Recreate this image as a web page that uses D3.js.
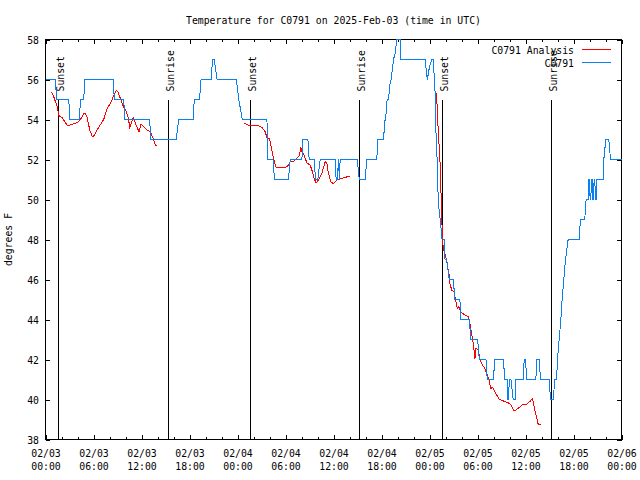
<!DOCTYPE html>
<html><head><meta charset="utf-8">
<script src="https://cdn.jsdelivr.net/npm/d3@7"></script>
<style>
body{margin:0;background:#fff;}
text{font-family:"DejaVu Sans Mono",monospace;font-size:9.8px;fill:#000;}
</style></head>
<body>
<script>
// ---- data ----
const titleText = "Temperature for C0791 on 2025-Feb-03 (time in UTC)";
const yLabel = "degrees F";
const startUTC = Date.UTC(2025, 1, 3);
const endUTC = Date.UTC(2025, 1, 6);
const yTicks = [38, 40, 42, 44, 46, 48, 50, 52, 54, 56, 58];
const seriesNames = ["C0791 Analysis", "C0791"];
const seriesColors = ["#ff0000", "#0a80f0"];
const eventHours = [1.66, 15.39, 25.63, 39.24, 49.65, 63.2];
const eventLabels = ["Sunset", "Sunrise", "Sunset", "Sunrise", "Sunset", "Sunrise"];

// observations: hours since 02/03 00:00 UTC, temperature F
const obsHours = [0.0,1.25,1.37,2.91,3.03,4.24,4.37,4.78,4.91,8.45,8.61,9.78,9.90,13.02,13.15,16.35,16.64,18.44,18.6,19.26,19.44,20.69,20.89,21.1,21.44,23.85,24.16,24.6,27.68,27.8,28.43,28.63,30.37,30.59,32.05,32.17,32.8,32.96,33.58,33.75,34.04,34.33,36.2,36.33,36.49,36.62,36.74,36.83,39.01,39.11,39.24,39.95,40.16,41.41,41.54,42.23,42.35,42.45,42.57,42.7,42.88,43.03,43.2,43.36,43.5,43.7,43.92,44.33,44.41,47.44,47.73,47.98,48.28,48.48,48.6,48.69,48.78,48.9,49.03,49.19,49.4,49.53,49.85,49.94,50.15,50.47,50.97,51.18,51.8,51.9,52.97,53.18,54.02,54.22,55.06,55.22,55.97,56.18,57.22,57.43,57.71,57.8,57.89,57.97,58.18,58.46,58.71,58.8,59.71,59.84,60.01,60.14,61.3,61.39,61.71,61.88,62.96,63.13,63.46,63.67,63.88,64.0,64.21,64.42,64.58,64.79,65.0,65.33,66.7,66.87,67.42,67.5,67.62,67.83,67.92,68.0,68.08,68.16,68.25,68.33,68.41,68.5,68.58,68.66,68.75,68.83,68.91,69.7,69.79,70.04,70.41,70.63,72.0];
const obsTemps = [56,56,55,55,54,54,55,55,56,56,55,55,54,54,53,53,54,54,55,55,56,56,57,57,56,56,55,54,54,52,52,51,51,52,52,53,53,52,52,51,51,52,52,51,51,52,51,52,52,51.3,51,51,52,52,53,53,53.5,54,54.3,55,55,55.7,56,56.5,57,57.3,58,58,57,57,56,56.6,57,57,56,55.4,53.5,52.8,50.6,49.5,48.8,48.05,48,47,47,46,46,45,45,44,44,43,43,42,42,41,41,42,42,41,41,40,40,41,41,40,40,41,41,42,42,41,41,42,42,41,41,40,40,41,41,42,43,44,45,46,47,48,48,49,49,49.8,50,50,51,51,50,50,51,51,50,50,51,51,50,50,51,51,52,53,53,52,52];

// analysis: null entries break the line
const anaHours = [0.75,1.04,1.46,1.66,2.08,2.71,3.33,3.96,4.37,4.78,4.99,5.21,5.53,5.83,6.03,6.45,6.87,7.28,7.7,8.11,8.53,8.86,9.03,9.36,9.78,10.11,10.4,10.52,10.7,10.95,11.11,11.45,11.7,11.95,12.27,12.7,13.11,13.45,13.73,13.98,
  null,
  24.76,25.38,26.84,27.05,27.47,27.68,28.0,28.3,28.5,28.8,29.34,29.96,30.37,30.59,31.0,31.42,31.75,31.92,32.08,32.33,32.67,33.08,33.3,33.58,33.83,34.12,34.54,34.96,35.17,35.37,35.67,35.99,36.42,37.04,37.67,37.99,
  null,
  48.81,48.98,49.1,49.23,49.4,49.48,49.65,49.73,49.85,50.15,50.27,50.47,50.56,50.77,51.06,51.31,51.47,51.65,51.9,52.43,52.85,53.06,53.27,53.47,53.68,53.81,54.09,54.31,54.64,54.93,55.22,55.47,55.64,55.89,56.18,56.72,57.22,57.84,58.18,58.59,58.89,59.3,59.64,60.14,60.55,60.84,60.96,61.17,61.38,61.59,61.89];
const anaTemps = [55.38,55.13,54.63,54.2,54.1,53.7,53.75,53.85,54.0,54.3,54.3,54.1,53.47,53.17,53.17,53.47,53.75,54.0,54.55,54.8,55.2,55.47,55.4,55.05,54.6,54.38,54.0,53.55,53.8,54.1,53.95,53.6,53.38,53.77,53.65,53.47,53.38,53.05,52.72,52.72,
  null,
  53.83,53.72,53.67,53.6,53.38,53.1,53.05,52.47,52.05,51.63,51.58,51.58,51.72,51.88,51.9,52.05,52.22,52.6,52.38,52.22,51.83,51.72,51.47,51.05,50.83,50.97,51.3,51.9,51.8,51.3,50.88,50.8,50.97,51.05,51.13,51.17,
  null,
  55.33,54.6,53.3,52.5,51.2,49.4,48.0,47.47,47.4,46.97,46.6,46.2,45.8,45.47,45.4,44.9,44.55,44.65,44.38,44.22,44.13,43.8,43.3,42.8,42.05,42.55,42.5,41.97,41.72,41.55,41.22,40.97,40.55,40.6,40.38,40.0,39.93,39.83,39.75,39.42,39.5,39.63,39.75,39.77,39.9,40.05,39.9,39.47,39.13,38.75,38.75];

// ---- chart ----
const W = 640, H = 480;
const L = 45.5, R = 621.5, T = 39.5, B = 439.5;
const toDate = h => new Date(startUTC + h * 3600e3);

const svg = d3.select("body").append("svg").attr("width", W).attr("height", H);
svg.append("rect").attr("width", W).attr("height", H).attr("fill", "#fff");

const x = d3.scaleUtc().domain([new Date(startUTC), new Date(endUTC)]).range([L, R]);
const y = d3.scaleLinear().domain([38, 58]).range([B, T]);

const majorT = d3.utcHours(new Date(startUTC), new Date(endUTC + 1), 6);
const minorT = d3.utcHours(new Date(startUTC), new Date(endUTC + 1), 2);

// minor ticks bottom / top
svg.append("g").attr("transform", `translate(0,${B})`)
  .call(d3.axisBottom(x).tickValues(minorT).tickSizeInner(-2.5).tickSizeOuter(0).tickFormat(""));
svg.append("g").attr("transform", `translate(0,${T})`)
  .call(d3.axisTop(x).tickValues(minorT).tickSizeInner(-2.5).tickSizeOuter(0).tickFormat(""));

// major bottom with 2-line labels
const fmtD = d3.utcFormat("%m/%d"), fmtH = d3.utcFormat("%H:%M");
const gx = svg.append("g").attr("transform", `translate(0,${B})`)
  .call(d3.axisBottom(x).tickValues(majorT).tickSizeInner(-4.5).tickSizeOuter(0).tickFormat(""));
gx.selectAll(".tick text").attr("y", null).attr("dy", null).each(function(d) {
  const t = d3.select(this);
  t.append("tspan").attr("x", 0).attr("y", 17.8).text(fmtD(d));
  t.append("tspan").attr("x", 0).attr("y", 30.5).text(fmtH(d));
});
svg.append("g").attr("transform", `translate(0,${T})`)
  .call(d3.axisTop(x).tickValues(majorT).tickSizeInner(-4.5).tickSizeOuter(0).tickFormat(""));

// y axes
svg.append("g").attr("transform", `translate(${L},0)`)
  .call(d3.axisLeft(y).tickValues(yTicks).tickSizeInner(-4.5).tickSizeOuter(0).tickPadding(6.5).tickFormat(d3.format("d")))
  .selectAll("text").attr("dy", "0.45em");
svg.append("g").attr("transform", `translate(${R},0)`)
  .call(d3.axisRight(y).tickValues(yTicks).tickSizeInner(-4.5).tickSizeOuter(0).tickFormat(""));

svg.selectAll(".domain").remove();
svg.selectAll(".tick line").attr("stroke", "#000").attr("shape-rendering", "crispEdges");
svg.selectAll(".tick text").attr("font-family", null).attr("font-size", null).attr("fill", "#000");

// border
svg.append("rect").attr("x", L).attr("y", T).attr("width", R - L).attr("height", B - T)
  .attr("fill", "none").attr("stroke", "#000").attr("shape-rendering", "crispEdges");

// event lines
const evY0 = y(38), evY1 = B - 0.85 * (B - T), evLab = B - 0.87 * (B - T);
eventHours.forEach((h, i) => {
  const ex = Math.floor(x(toDate(h))) + 0.5;
  svg.append("line").attr("x1", ex).attr("x2", ex).attr("y1", evY0).attr("y2", evY1)
    .attr("stroke", "#000").attr("shape-rendering", "crispEdges");
  svg.append("text").attr("transform", `translate(${ex + 5.7},${evLab}) rotate(-90)`)
    .attr("text-anchor", "start").text(eventLabels[i]);
});

// data lines
const ana = anaHours.map((h, i) => [h, anaTemps[i]]);
const obs = obsHours.map((h, i) => [h, obsTemps[i]]);
const line = d3.line().defined(d => d[0] != null && d[1] != null)
  .x(d => x(toDate(d[0]))).y(d => y(d[1]));

svg.append("path").datum(ana).attr("d", line).attr("fill", "none")
  .attr("stroke", seriesColors[0]).attr("stroke-width", 1).attr("shape-rendering", "crispEdges");
svg.append("path").datum(obs).attr("d", line).attr("fill", "none")
  .attr("stroke", seriesColors[1]).attr("stroke-width", 1).attr("shape-rendering", "crispEdges");

// legend
seriesNames.forEach((n, i) => {
  const ly = 49.5 + i * 13;
  svg.append("text").attr("x", 574).attr("y", ly + 4).attr("text-anchor", "end").text(n);
  svg.append("line").attr("x1", 581.5).attr("x2", 610.5).attr("y1", ly).attr("y2", ly)
    .attr("stroke", seriesColors[i]).attr("shape-rendering", "crispEdges");
});

// title & y label
svg.append("text").attr("x", (L + R) / 2).attr("y", 24).attr("text-anchor", "middle").text(titleText);
svg.append("text").attr("transform", `translate(12,${(T + B) / 2}) rotate(-90)`)
  .attr("text-anchor", "middle").text(yLabel);
</script>
</body></html>
